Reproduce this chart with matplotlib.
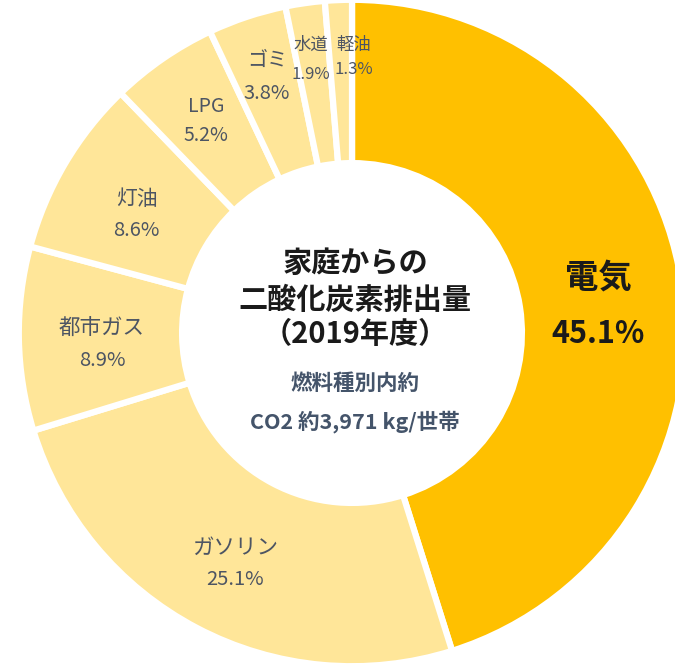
import numpy as np
import matplotlib.pyplot as plt

plt.rcParams['font.family'] = ['Noto Sans CJK JP', 'DejaVu Sans']

# household CO2 by fuel type, 2019 (%)
labels = ['電気', 'ガソリン', '都市ガス', '灯油', 'LPG', 'ゴミ', '水道', '軽油']
shares = [45.1, 25.1, 8.9, 8.6, 5.2, 3.8, 1.9, 1.3]

main_color = '#FFC000'
light_color = '#FFE699'
colors = [main_color] + [light_color] * (len(shares) - 1)

fig = plt.figure(figsize=(6.75, 6.69), dpi=100)
ax = fig.add_axes([0, 0, 1, 1])

wedges, _ = ax.pie(shares, colors=colors, startangle=90, counterclock=False,
                   radius=1.01, wedgeprops=dict(width=0.495, edgecolor='white', linewidth=4.5))

# pixel-fitted view: the ring is cut off on the right
ax.set_xlim(-1.067, 0.979)
ax.set_ylim(-1.018, 1.009)
ax.set_aspect('equal')
ax.axis('off')

# label placement per slice (radius, angle nudge in degrees, half line gap)
label_r = [0.75, 0.783, 0.759, 0.744, 0.779, 0.818, 0.838, 0.836]
ang_nudge = [-2.5, 0.8, 1.7, 1.8, 0.0, 0.0, 0.45, -2.7]
half_gap = [0.086, 0.048, 0.048, 0.048, 0.044, 0.05, 0.045, 0.038]
label_fs = [24, 15.5, 15.5, 15, 14, 14.5, 12.5, 12.5]
pct_fs = [22, 14.5, 14.5, 14.5, 14, 14.5, 12, 12]

for i, w in enumerate(wedges):
    mid = np.deg2rad((w.theta1 + w.theta2) / 2 + ang_nudge[i])
    x = label_r[i] * np.cos(mid)
    y = label_r[i] * np.sin(mid)
    if i == 0:
        style = dict(fontweight='bold', color='#1a1a1a')
    else:
        style = dict(color='#4d5563')
    ax.text(x, y + half_gap[i], labels[i], ha='center', va='center',
            fontsize=label_fs[i], **style)
    ax.text(x, y - half_gap[i], f'{shares[i]}%', ha='center', va='center',
            fontsize=pct_fs[i], **style)

# centre text
title_style = dict(ha='center', va='center', fontsize=21, fontweight='bold', color='#1a1a1a')
ax.text(0.01, 0.212, '家庭からの', **title_style)
ax.text(0.01, 0.100, '二酸化炭素排出量', **title_style)
ax.text(0.01, -0.003, '（2019年度）', **title_style)
sub_style = dict(ha='center', va='center', fontsize=15.5, fontweight='bold', color='#44546A')
ax.text(0.01, -0.152, '燃料種別内約', **sub_style)
ax.text(0.01, -0.267, 'CO2 約3,971 kg/世帯', **sub_style)

fig.savefig('out.png', dpi=100)
